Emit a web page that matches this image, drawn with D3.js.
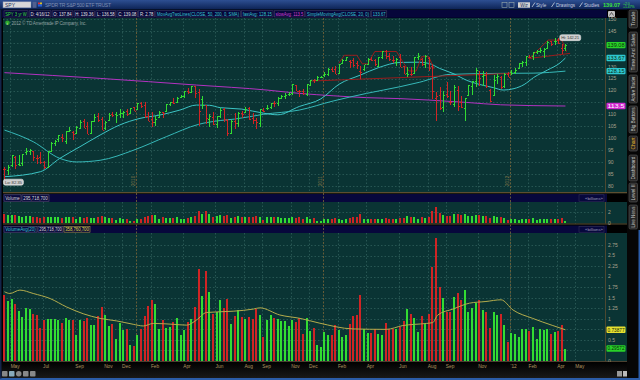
<!DOCTYPE html>
<html><head><meta charset="utf-8">
<script src="https://cdn.jsdelivr.net/npm/d3@7"></script>
<style>
html,body{margin:0;padding:0;background:#000;}
svg{display:block;font-family:"Liberation Sans",Arial,sans-serif;}
</style></head><body>
<svg id="c" width="640" height="380"></svg>
<script>
// ---------- DATA (SPY weekly, 3 yr) ----------
const opens = [87.2,86.5,88.6,92.0,89.0,89.5,94.0,94.5,94.6,91.5,
92.0,89.8,88.0,94.8,98.0,99.5,100.5,98.6,103.2,102.6,
102.3,104.2,107.0,105.0,102.1,107.4,109.2,107.9,104.3,107.8,
110.3,110.3,110.0,110.5,111.2,110.6,112.9,112.4,114.9,114.0,
109.5,108.1,106.7,108.9,110.9,111.2,114.3,115.1,115.1,117.2,
117.6,119.6,119.3,122.1,119.4,116.3,113.9,108.0,108.9,106.1,
109.3,112.3,107.6,102.3,107.2,106.5,110.6,111.0,112.5,108.5,
107.7,106.3,112.0,112.8,113.0,114.8,114.7,117.0,117.8,118.6,
119.0,122.4,120.0,120.0,118.6,122.5,124.5,124.4,125.6,126.7,
127.1,129.1,129.0,127.5,131.4,133.0,132.6,132.7,131.7,128.4,
129.0,131.3,133.3,132.9,130.4,134.0,136.5,134.5,133.0,132.1,
134.0,130.2,127.5,126.9,127.2,134.0,133.2,131.3,133.8,130.3,
116.9,118.3,113.0,118.6,115.0,114.5,120.2,115.0,112.5,118.0,
122.0,124.0,127.0,126.0,126.6,120.3,118.0,125.8,125.8,122.1,
126.9,127.8,127.9,129.3,131.4,132.0,134.1,134.6,136.3,136.5,
136.5,138.0,140.7,141.0,141.2,138.0,137.84];
const highs = [88.0,88.6,93.0,92.5,93.0,93.5,95.8,95.6,94.8,93.0,
94.0,90.5,94.8,98.2,99.2,101.4,101.7,103.2,104.5,103.0,
105.0,107.6,108.0,106.8,107.3,110.1,110.4,109.0,107.1,110.4,
111.0,111.0,112.4,111.3,112.4,112.8,113.0,114.7,115.1,115.1,
110.8,111.0,109.5,111.6,111.0,114.3,115.2,117.0,117.4,118.3,
119.6,121.0,122.0,122.1,120.7,117.6,114.0,110.0,111.0,109.2,
112.5,112.6,108.0,107.5,110.5,111.0,111.4,113.0,113.1,110.5,
108.4,112.2,112.8,113.8,114.8,115.8,117.2,118.3,118.9,119.2,
122.9,122.5,120.4,120.6,122.7,124.6,125.0,125.9,126.2,127.6,
129.3,130.0,130.5,131.2,133.2,134.2,132.9,133.7,132.3,130.2,
130.7,133.8,134.0,133.1,134.1,136.5,137.2,135.9,134.6,133.5,
135.3,130.5,130.0,130.0,134.0,135.7,133.6,135.0,134.0,131.0,
119.5,121.5,119.7,123.6,120.0,122.5,122.0,117.8,117.0,122.5,
124.0,129.4,128.2,128.0,127.7,120.5,126.4,127.0,126.0,127.5,
127.7,128.5,129.6,131.5,132.2,134.6,135.0,136.2,137.0,138.0,
137.9,141.0,141.0,141.9,142.21,139.4,139.36];
const lows = [82.35,84.5,88.0,87.0,88.5,88.5,93.0,93.0,90.5,89.1,
89.3,86.9,87.9,94.2,96.5,98.5,98.2,97.5,102.5,99.3,
101.9,103.8,104.1,101.8,102.0,107.0,106.7,103.5,103.5,107.3,
108.8,106.5,108.3,108.6,109.4,110.5,111.4,112.3,112.7,108.5,
107.2,104.6,105.3,108.4,108.6,111.0,113.6,114.5,114.6,116.8,
117.0,118.4,118.8,116.7,105.0,112.3,106.0,104.8,105.5,104.3,
108.5,106.6,101.1,101.8,103.8,104.5,108.3,110.6,107.6,106.0,
103.9,104.5,110.8,112.0,112.1,113.2,113.5,116.4,116.5,117.7,
118.3,119.8,117.2,118.3,117.6,122.1,123.2,124.2,125.4,125.7,
126.3,127.6,126.9,127.0,131.1,132.4,129.6,129.9,129.0,124.8,
128.2,130.6,132.2,130.2,129.7,133.3,133.1,132.6,131.6,130.5,
129.8,127.1,125.8,126.1,126.9,132.8,130.5,129.5,128.4,116.5,
107.4,112.0,111.0,117.0,114.0,113.2,111.5,112.5,107.4,117.5,
118.2,121.5,122.0,121.8,121.0,115.1,117.5,122.8,120.6,121.0,
125.5,126.4,127.1,129.2,129.7,130.5,133.6,133.0,135.3,135.7,
133.6,137.5,138.9,139.0,139.5,135.5,136.58];
const closes = [86.9,87.8,92.9,88.7,88.9,93.4,94.6,94.9,92.0,91.8,
89.8,87.9,94.5,97.9,98.8,101.3,100.1,102.9,103.6,101.9,
104.8,106.7,104.4,101.9,107.2,108.9,107.6,103.6,106.8,109.7,
109.6,109.7,110.5,110.8,110.2,112.8,111.4,114.6,113.6,109.2,
107.4,106.7,108.0,110.8,110.7,114.3,115.0,114.9,116.9,117.8,
119.6,119.4,121.8,118.8,111.3,113.9,108.6,109.4,106.0,109.1,
111.7,107.9,102.1,107.1,106.4,110.4,110.1,112.4,107.9,107.5,
106.9,112.2,111.5,112.5,114.8,114.6,116.7,117.5,118.2,118.5,
122.7,120.0,119.9,118.9,122.6,124.4,124.3,125.8,125.8,127.1,
129.2,128.4,127.0,131.1,133.0,134.2,132.0,130.8,130.7,127.8,
131.0,133.1,132.9,131.2,133.9,136.4,134.3,133.3,133.0,133.4,
130.0,127.1,127.1,126.8,133.9,134.4,131.1,134.6,129.3,120.0,
117.5,112.6,118.1,117.5,115.3,121.6,113.5,113.2,116.8,122.3,
123.9,128.6,125.2,126.7,121.9,115.5,124.6,126.0,121.6,126.9,
125.5,127.5,128.8,131.4,131.8,134.5,134.2,136.0,136.8,137.0,
137.6,140.3,139.6,140.8,139.8,137.1,139.08];
// weekly volume, billions of shares
const volumes = [1.56,1.41,1.46,1.35,1.18,1.05,1.26,1.23,1.11,1.10,
0.79,0.97,0.99,0.99,0.99,0.96,0.91,1.02,0.96,0.96,
0.62,0.96,0.95,1.01,0.85,0.85,1.07,1.29,1.09,0.83,
0.88,0.52,0.91,0.73,0.76,0.38,0.36,0.62,0.77,1.07,
1.30,1.45,1.34,0.76,0.96,0.79,0.80,0.92,1.01,0.62,
0.73,0.92,0.99,1.29,2.18,1.54,2.13,1.63,1.11,1.15,
1.44,1.25,1.46,0.88,1.07,1.21,1.05,0.99,1.05,0.99,
1.23,1.09,0.58,0.97,1.09,1.01,0.99,0.95,0.95,0.83,
0.97,0.92,1.01,0.63,1.03,0.71,0.79,0.38,0.34,0.69,
0.62,0.62,0.85,0.73,0.58,0.62,0.87,1.07,1.09,1.56,
0.75,0.67,0.67,0.77,0.63,0.62,0.89,0.77,0.77,0.77,
0.81,0.95,1.23,1.11,1.03,0.68,1.07,0.87,1.12,2.23,
2.91,1.75,1.50,1.17,1.15,1.52,1.62,1.45,1.68,1.17,
1.25,1.37,1.45,1.21,1.17,0.79,1.15,1.09,1.12,0.85,
0.46,0.66,0.63,0.58,0.76,0.76,0.70,0.81,0.52,0.75,
0.73,0.76,0.63,0.68,0.70,0.85,0.296];
// moving averages: [week index, value]
const sma20Pts = [[0,83.8],[10,85.9],[15.4,91.5],[21,96.4],[26.6,101.3],[32,105.5],[37.7,108.3],[43.2,109.7],[48.8,111.8],[53.4,113.9],[57,113.8],[60,112.8],[66,112.2],[72,110.5],[76,109.8],[82,113.3],[88,116.5],[93,122.6],[99,126.5],[104,129.6],[110,131.8],[115,131.9],[118,131.4],[121,129.3],[125,127],[128.5,124.3],[132,122.6],[136,121.2],[138.7,120.2],[141.7,120.8],[144.5,122.5],[147.2,125.5],[151,128.6],[154.5,131.6],[156,133.67]];
const sma50Pts = [[0,103.4],[8,98.5],[15.4,91.5],[20,90],[26.6,90.7],[36,95],[45,100.6],[54,105.8],[60,107.4],[64,108],[72,110],[82,111.8],[91.4,115.6],[100.7,118.8],[110,121.6],[115.5,123.5],[124,126.8],[138,127.2],[147,127.3],[156,128.15]];
const sma200Pts = [[0,127.5],[26.6,125.1],[53.4,122.3],[73,120.2],[82,118.8],[91.4,117.8],[100.7,117],[110,116.6],[118,116],[128.5,115],[138,114],[156,113.5]];
const volAvgPts = [[0,1.64],[1.5,1.6],[4.3,1.68],[8,1.6],[12.7,1.48],[17.3,1.28],[21.9,1.12],[26.6,1.01],[31.2,0.95],[35.8,0.87],[38.6,0.83],[41.4,0.89],[46.9,0.87],[50.7,0.85],[53.4,0.97],[56.2,1.15],[63.6,1.18],[69.2,1.23],[71,1.26],[76.6,1.09],[82.2,1.01],[87.5,0.9],[96.9,0.76],[106.2,0.75],[110.8,0.84],[117.3,0.89],[119.1,0.91],[120.5,1.09],[124.7,1.23],[129.3,1.37],[133.9,1.41],[138.1,1.45],[141.4,1.21],[146.9,1.01],[152.5,0.84],[156,0.74]];
// user drawings (dark red), [week, price]
const drawings = [
  [[85.4,124],[141,127.2]],
  [[93,131.5],[94.5,134.8],[98,134.8],[99.5,131.2],[101,131.2],[103,136.4],[109,136.4],[111,131.5],[112.5,128.2],[114.5,128.2],[116,134.2],[118,134.2],[119.5,129]],
  [[146,133.5],[151.2,141.2],[155,141.2],[156.3,136.3]],
  [[146,133.5],[157.3,135.6]]
];
const tickLabels = ["May","Jul","Sep","Nov","Dec","Feb","Apr","Jun","Aug","Sep","Nov","Dec","Feb","Apr","Jun","Aug","Sep","Nov","'12","Feb","Apr","May"];
const tickWeeks  = [2,11,20,28,33,41,50,59,67,72,80,85,93,101,110,118,123,132,141,146,154,159];
const yearBreaks = [36.5,88.5,140.5];
const yearLabels = ["2010","2011","2012"];
const priceTicks = [150,145,140,135,130,125,120,115,110,105,100,95,90,85,80];
const volTicks = [0,2];
const volAvgTicks = [0,0.25,0.5,0.75,1,1.25,1.5,1.75,2,2.25,2.5,2.75];
const volAvgTickText = ["0","0.25","0.5","0.75","1","1.25","1.5","1.75","2","2.25","2.5","2.75"];
const infoItems = [["SPY 3 yr W","#3cdc3c"],["D: 4/16/12","#e0e0e0"],["O: 137.84","#e0e0e0"],["H: 139.36","#e0e0e0"],["L: 136.58","#e0e0e0"],["C: 139.08","#e0e0e0"],["R: 2.78","#e0e0e0"],["MovAvgTwoLines(CLOSE, 50, 200, 0, SMA)","#38c8d0"],["fastAvg: 128.15","#38c8d0"],["slowAvg: 113.5","#d040d0"],["SimpleMovingAvg(CLOSE, 20, 0)","#38c8d0"],["133.67","#38c8d0"]];
const tabs = [["Trade",10,28],["Time And Sales",32,72],["Active Trader",75,103],["Big Buttons",106,133],["Chart",136,151],["Dashboard",155,181],["Level II",183,202],["Live News",205,229]];

// ---------- LAYOUT ----------
const svg = d3.select("#c");
const PL = 3, PR = 605, AX = 627;
const P = {top:18, bot:192};
const VH = {top:194, bot:202}, V = {top:202, bot:223.5};
const AH = {top:225.5, bot:233}, A = {top:233, bot:361};
const x = d3.scaleLinear().domain([-0.4,167]).range([PL,PR]);
const yP = d3.scaleLinear().domain([77.8,150.46]).range([P.bot-1,P.top]);
const yV = d3.scaleLinear().domain([0,3.8]).range([222.7,V.top]);
const yA = d3.scaleLinear().domain([0,3.0]).range([A.bot,234.4]);

const BG = "#0a3434", GRID = "#2f5f5c", BORDER = "#5d4e30";
const UP = "#32dc32", DN = "#d02424";
const up = closes.map((c,i)=> c >= (i ? closes[i-1] : opens[i]));

const defs = svg.append("defs");
const g1 = defs.append("linearGradient").attr("id","top").attr("x1",0).attr("y1",0).attr("x2",0).attr("y2",1);
g1.append("stop").attr("offset",0).attr("stop-color","#2d4f92");
g1.append("stop").attr("offset",1).attr("stop-color","#0c2254");
const g2 = defs.append("linearGradient").attr("id","bot").attr("x1",0).attr("y1",0).attr("x2",0).attr("y2",1);
g2.append("stop").attr("offset",0).attr("stop-color","#000");
g2.append("stop").attr("offset",1).attr("stop-color","#1a1a1a");

svg.append("rect").attr("width",640).attr("height",380).attr("fill","#000");
// top toolbar
svg.append("rect").attr("x",0).attr("y",0).attr("width",640).attr("height",9.5).attr("fill","url(#top)");
function txt(px,py,s,size,fill,anchor,extra){
  const t = svg.append("text").attr("x",px).attr("y",py).text(s).attr("font-size",size).attr("fill",fill).attr("text-anchor",anchor||"start");
  if(extra) extra(t);
  return t;
}
svg.append("rect").attr("x",3).attr("y",1.8).attr("width",28).attr("height",6).attr("fill","#d8d8d8").attr("stroke","#8090b0").attr("stroke-width",0.5);
txt(5,6.8,"SPY",5,"#203060");
svg.append("rect").attr("x",32.5).attr("y",1.8).attr("width",4).attr("height",6).attr("fill","#506090");
svg.append("rect").attr("x",38).attr("y",2.5).attr("width",2).attr("height",2).attr("fill","#e03030");
svg.append("rect").attr("x",40).attr("y",2.5).attr("width",2).attr("height",2).attr("fill","#e0c020");
svg.append("rect").attr("x",38).attr("y",4.5).attr("width",4).attr("height",2).attr("fill","#2060e0");
txt(45,7,"SPDR TR S&P 500 ETF TRUST",5,"#7d8db3","start",t=>t.attr("textLength",66));
// top right buttons
[[502,"#9aa"],[509,"#9aa"]].forEach(b=>svg.append("rect").attr("x",b[0]).attr("y",2.5).attr("width",5).attr("height",5).attr("fill","none").attr("stroke",b[1]).attr("stroke-width",0.6));
svg.append("rect").attr("x",518).attr("y",2.3).attr("width",12).attr("height",5.4).attr("fill","#d0d0d0");
txt(524,6.6,"Wiz",4.5,"#203060","middle");
txt(536,6.6,"Style",4.6,"#c8d0e0");
txt(556,6.6,"Drawings",4.6,"#c8d0e0");
txt(584,6.6,"Studies",4.6,"#c8d0e0");
[[532],[551.5],[579.5]].forEach(b=>svg.append("path").attr("d",`M${b[0]},7 L${b[0]+3},2.5`).attr("stroke","#c8d0e0").attr("stroke-width",0.8));
txt(603,7,"139.07",5.6,"#3ce23c","start",t=>t.attr("font-weight","bold"));
txt(623,4.5,"+2.0",3.4,"#3ce23c");
txt(623,8.2,"+1.47%",3.4,"#3ce23c");

// info bar: boxes sized from the measured text, glyphs condensed horizontally
svg.append("rect").attr("x",2).attr("y",10).attr("width",605).attr("height",7.8).attr("fill","#06063a");
{
  const gI = svg.append("g");
  const FS = 4.7;
  const texts = infoItems.map(it=>gI.append("text").text(it[0]).attr("fill",it[1]).attr("font-size",FS));
  const lens = texts.map(t=>t.node().getComputedTextLength());
  const pad = 2.4, gap = 1.2, endX = 388;
  const sx = Math.min(1,(endX - 4 - infoItems.length*(pad+gap)) / d3.sum(lens));
  let ix = 4;
  texts.forEach((t,k)=>{
    const w = lens[k]*sx + pad;
    gI.insert("rect","text").attr("x",ix).attr("y",10.8).attr("width",w).attr("height",6.2).attr("fill","none").attr("stroke","#4a4a66").attr("stroke-width",0.5);
    t.attr("transform",`translate(${ix+pad/2},15.8) scale(${sx},1)`);
    ix += w + gap;
  });
}
svg.append("rect").attr("x",608).attr("y",11).attr("width",7).attr("height",6).attr("fill","#c0c0c0").attr("rx",1);
svg.append("path").attr("d","M609.5,15.5 L611.5,12.5 L613.5,15.5").attr("fill","none").attr("stroke","#333").attr("stroke-width",0.7);

// panel backgrounds
function panel(p){ svg.append("rect").attr("x",PL).attr("y",p.top).attr("width",AX-PL).attr("height",p.bot-p.top).attr("fill",BG); }
panel(P); panel(V); panel(A);
svg.append("rect").attr("x",PL).attr("y",P.bot).attr("width",AX-PL).attr("height",2).attr("fill","#1a1a10");
function header(h,items){
  svg.append("rect").attr("x",PL).attr("y",h.top).attr("width",PR-PL+2).attr("height",h.bot-h.top).attr("fill","#07073c");
  let hx = 4;
  items.forEach(it=>{
    svg.append("rect").attr("x",hx).attr("y",h.top+0.8).attr("width",it[2]).attr("height",h.bot-h.top-1.6).attr("fill","none").attr("stroke",it[3]||"#5a5a6e").attr("stroke-width",0.6);
    txt(hx+1.2,h.top+5.8,it[0],4.5,it[1],"start",t=>t.attr("textLength",it[2]-2.4).attr("lengthAdjust","spacingAndGlyphs"));
    hx += it[2]+1;
  });
  txt(PR-2,h.top+5.6,"«billions»",4.3,"#9a9ab8","end");
  svg.append("rect").attr("x",PR-26).attr("y",h.top+0.8).attr("width",25).attr("height",h.bot-h.top-1.6).attr("fill","none").attr("stroke","#3a3a5a").attr("stroke-width",0.5);
}
header(VH,[["Volume","#d8d8d8",17],["295,718,700","#d8d8d8",27]]);
header(AH,[["VolumeAvg(20)","#38c8d0",33],["295,718,700","#d8d8d8",25],["358,760,700","#e8e040",26,"#a8a040"]]);

// grids
function hgrid(p,vals,sc){
  svg.append("g").selectAll("line").data(vals).join("line")
   .attr("x1",PL).attr("x2",PR).attr("y1",d=>Math.round(sc(d))+0.5).attr("y2",d=>Math.round(sc(d))+0.5)
   .attr("stroke",GRID).attr("stroke-width",0.8).attr("stroke-dasharray","1.5,2");
}
function vgrid(p){
  svg.append("g").selectAll("line").data(tickWeeks.filter(w=>x(w)<PR)).join("line")
   .attr("x1",d=>Math.round(x(d)-1.2)+0.5).attr("x2",d=>Math.round(x(d)-1.2)+0.5).attr("y1",p.top).attr("y2",p.bot)
   .attr("stroke",GRID).attr("stroke-width",0.8).attr("stroke-dasharray","1.5,2");
}
hgrid(P,priceTicks.filter(v=>yP(v)>P.top+1),yP); vgrid(P);
hgrid(V,[2],yV); vgrid(V);
hgrid(A,volAvgTicks.slice(1),yA); vgrid(A);

// year separators
yearBreaks.forEach((w,k)=>{
  const xx = Math.round(x(w))+0.5;
  svg.append("line").attr("x1",xx).attr("x2",xx).attr("y1",P.top).attr("y2",A.bot).attr("stroke","#6e6038").attr("stroke-width",0.9).attr("stroke-dasharray","2,1.5");
  txt(0,0,yearLabels[k],4.6,"#8a7a4a","start",t=>t.attr("transform",`translate(${xx-1.2},${P.bot-6}) rotate(-90)`));
});

// panel borders
[[P.top,P.bot],[V.top,V.bot],[A.top,A.bot]].forEach(b=>{
  svg.append("line").attr("x1",PR+0.5).attr("x2",PR+0.5).attr("y1",b[0]).attr("y2",b[1]).attr("stroke",BORDER).attr("stroke-width",0.8);
});
[P.bot,V.bot].forEach(yy=>svg.append("line").attr("x1",PL).attr("x2",AX).attr("y1",yy+0.5).attr("y2",yy+0.5).attr("stroke",BORDER).attr("stroke-width",1));
svg.append("line").attr("x1",PL).attr("x2",AX).attr("y1",A.bot+0.5).attr("y2",A.bot+0.5).attr("stroke","#4a4030").attr("stroke-width",1);

// moving average lines
const ln = sc => d3.line().x(d=>x(d[0])).y(d=>sc(d[1])).curve(d3.curveMonotoneX);
svg.append("path").attr("d",ln(yP)(sma200Pts)).attr("fill","none").attr("stroke","#b232c0").attr("stroke-width",1);
svg.append("path").attr("d",ln(yP)(sma50Pts)).attr("fill","none").attr("stroke","#36b8b8").attr("stroke-width",1);
svg.append("path").attr("d",ln(yP)(sma20Pts)).attr("fill","none").attr("stroke","#3cc4c4").attr("stroke-width",1);

// drawings
drawings.forEach(dr=>{
  svg.append("path").attr("d",d3.line().x(d=>x(d[0])).y(d=>yP(d[1]))(dr)).attr("fill","none").attr("stroke","#9a1c1c").attr("stroke-width",1);
});

// OHLC bars
const bars = svg.append("g").attr("shape-rendering","crispEdges");
closes.forEach((c,i)=>{
  const cx = Math.round(x(i))+0.5, col = up[i]?UP:DN;
  bars.append("line").attr("x1",cx).attr("x2",cx).attr("y1",yP(highs[i])).attr("y2",yP(lows[i])).attr("stroke",col).attr("stroke-width",1);
  bars.append("line").attr("x1",cx-1.5).attr("x2",cx).attr("y1",Math.round(yP(opens[i]))+0.5).attr("y2",Math.round(yP(opens[i]))+0.5).attr("stroke",col).attr("stroke-width",1);
  bars.append("line").attr("x1",cx).attr("x2",cx+1.5).attr("y1",Math.round(yP(c))+0.5).attr("y2",Math.round(yP(c))+0.5).attr("stroke",col).attr("stroke-width",1);
});

// volume bars (both panels)
function volBars(sc){
  svg.append("g").attr("shape-rendering","crispEdges").selectAll("rect").data(volumes).join("rect")
    .attr("x",(d,i)=>Math.round(x(i))-1).attr("width",2)
    .attr("y",d=>sc(d)).attr("height",d=>sc(0)-sc(d))
    .attr("fill",(d,i)=>up[i]?UP:DN);
}
volBars(yV); volBars(yA);
svg.append("path").attr("d",ln(yA)(volAvgPts)).attr("fill","none").attr("stroke","#b4ac4c").attr("stroke-width",1);

// value tags (they cover the axis labels beneath them, as in the platform)
const tagsP = [[139.08,"139.08","#28d228"],[133.67,"133.67","#2ec8d0"],[128.15,"128.15","#2ec8d0"],[113.5,"113.5","#d028d0","#fff"]];
const tagsA = [[0.7388,"0.73877","#e8e030"],[0.2957,"0.29572","#28d228"]];
const hidden = (yy,list,sc)=> list.some(t=>Math.abs(sc(t[0])-yy)<4.2);

// axis labels
const LAB = "#a9a28e";
priceTicks.forEach(v=>{ if(yP(v)>P.top-1 && !hidden(yP(v),tagsP,yP)) txt(PR+3,yP(v)+1.8,String(v),5,LAB); });
volTicks.forEach(v=>txt(PR+3,yV(v)+1.8,String(v),5,LAB));
volAvgTicks.forEach((v,k)=>{ if(!hidden(yA(v),tagsA,yA)) txt(PR+3,yA(v)+1.8,volAvgTickText[k],5,LAB); });

function tag(yy,s,fill,tc){
  svg.append("rect").attr("x",PR+1.5).attr("y",yy-3.2).attr("width",19).attr("height",6.4).attr("rx",1).attr("fill",fill);
  txt(PR+2.5,yy+1.8,s,4.8,tc||"#0a2a0a","start",t=>t.attr("textLength",17).attr("lengthAdjust","spacingAndGlyphs"));
}
tagsP.forEach(t=>tag(yP(t[0]),t[1],t[2],t[3]));
tagsA.forEach(t=>tag(yA(t[0]),t[1],t[2],t[3]));

// Hi / Lo bubbles
function bubble(bx,by,s,w){
  svg.append("rect").attr("x",bx).attr("y",by).attr("width",w).attr("height",6).attr("rx",2).attr("fill","#cfcfcf").attr("stroke","#f0f0f0").attr("stroke-width",0.5);
  txt(bx+1.5,by+4.6,s,4.4,"#404040","start",t=>t.attr("textLength",w-3));
}
bubble(x(154)+1.5,yP(142.21)-3,"Hi: 142.21",21);
bubble(x(0)-1,yP(82.35)-1,"Lo: 82.35",20);

// copyright
svg.append("circle").attr("cx",7.5).attr("cy",22.8).attr("r",2.3).attr("fill","#2ca82c");
txt(6.7,24.6,"i",4,"#fff");
txt(11.5,24.8,"2012 © TD Ameritrade IP Company, Inc.",4.6,"#8fa0a0","start",t=>t.attr("textLength",75));

// x axis
svg.append("rect").attr("x",0).attr("y",A.bot+1).attr("width",627).attr("height",16.5).attr("fill","url(#bot)");
tickWeeks.forEach((w,k)=>{ if(x(w)<PR-4) txt(x(w)-1,367.5,tickLabels[k],4.8,"#b09660"); });
// bottom toolbar icons
[[2],[9],[16],[23],[30]].forEach((b,k)=>{
  svg.append("rect").attr("x",b[0]).attr("y",371).attr("width",5.5).attr("height",5.5).attr("rx",k==2?2.7:0.8).attr("fill",k==1?"#8ab":"#888");
});
svg.append("rect").attr("x",617).attr("y",371).attr("width",5).attr("height",5.5).attr("fill","#999");
svg.append("rect").attr("x",623).attr("y",371).attr("width",7).attr("height",5.5).attr("fill","#bbb");
svg.append("rect").attr("x",0).attr("y",378).attr("width",640).attr("height",2).attr("fill","#2b5ca8");

// right sidebar
svg.append("rect").attr("x",AX).attr("y",9.5).attr("width",13).attr("height",368.5).attr("fill","#060606");
tabs.forEach(t=>{
  const cy=(t[1]+t[2])/2, hgt=t[2]-t[1];
  svg.append("rect").attr("x",629).attr("y",t[1]).attr("width",8.5).attr("height",hgt).attr("rx",1.5).attr("fill","#262626").attr("stroke","#5c5c5c").attr("stroke-width",0.6);
  txt(0,0,t[0],4.6,t[0]==="Chart"?"#e6b62e":"#c8c8c8","middle",e=>e.attr("transform",`translate(634.9,${cy}) rotate(-90)`).attr("textLength",hgt-3).attr("lengthAdjust","spacingAndGlyphs"));
});
svg.append("rect").attr("x",638.5).attr("y",230).attr("width",1.5).attr("height",148).attr("fill","#2b5ca8");
svg.append("rect").attr("x",0).attr("y",9.5).attr("width",1.5).attr("height",369).attr("fill","#14244a");
</script>
</body></html>
